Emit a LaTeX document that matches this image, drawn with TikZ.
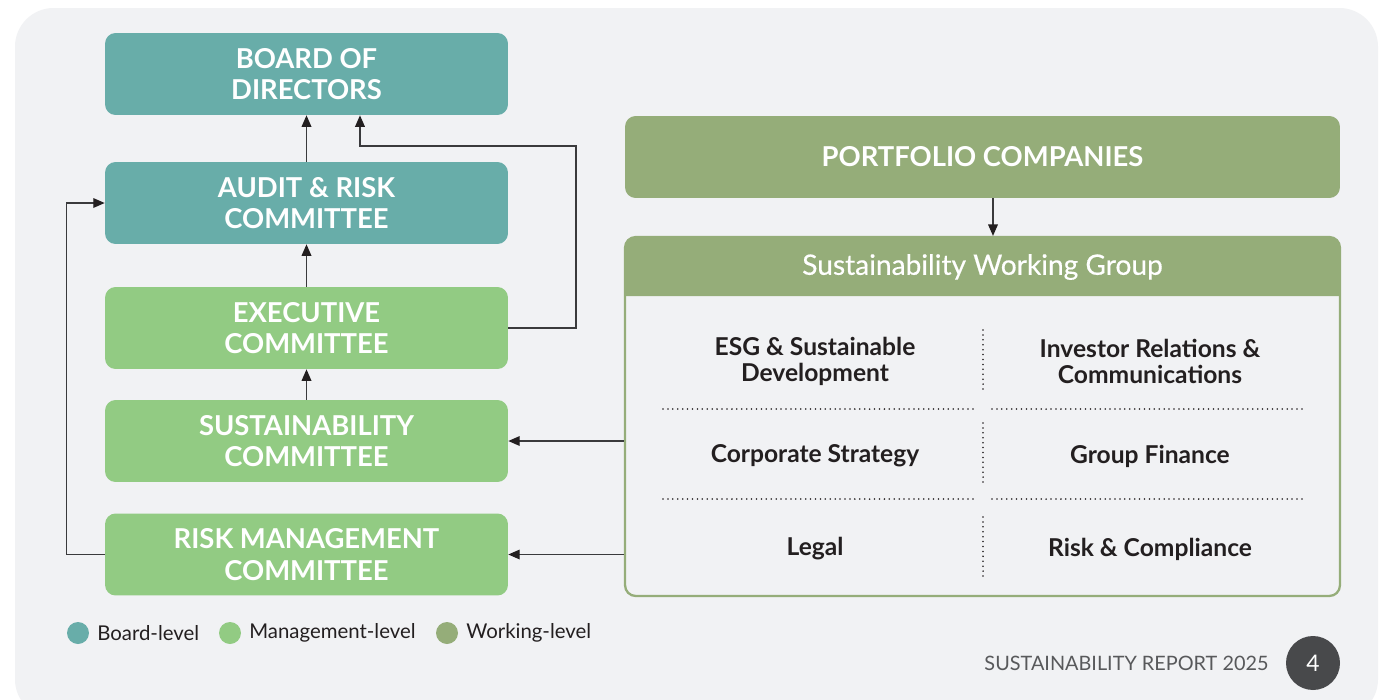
\documentclass[tikz,border=0pt]{standalone}
\usepackage{fontspec}
\setmainfont{Lato}
\newfontfamily\medfont{Lato}[FakeBold=0.5]
\usetikzlibrary{arrows.meta,positioning}
\definecolor{boardteal}{HTML}{68ADA9}
\definecolor{mgmtgreen}{HTML}{92CB83}
\definecolor{workgreen}{HTML}{95AD79}
\definecolor{panelgray}{HTML}{F1F2F4}
\definecolor{inkdark}{HTML}{231F20}
\definecolor{linegray}{HTML}{3A3A3C}
\definecolor{footgray}{HTML}{58595B}
\definecolor{pagedot}{HTML}{48494B}

\begin{document}
\begin{tikzpicture}[x=0.02cm,y=-0.02cm,
			box/.style={rounded corners=6pt, minimum width=8.06cm, minimum height=1.64cm, align=center,
				text=white, font=\bfseries\fontsize{15.6}{18}\selectfont},
			board/.style={box, fill=boardteal},
			mgmt/.style={box, fill=mgmtgreen},
			cell/.style={align=center, text=inkdark, font=\bfseries\fontsize{14}{14.8}\selectfont},
			link/.style={draw=linegray, line width=0.7pt, -{Triangle[length=6.5pt,width=5.5pt,color=inkdark]}},
			divider/.style={draw=inkdark, line width=1pt, line cap=round, dash pattern=on 0pt off 2.8pt},
			legdot/.style={circle, inner sep=0pt, minimum size=0.44cm},
			legtext/.style={right=1pt of #1, text=inkdark, font=\fontsize{11.6}{13}\selectfont}]
			\useasboundingbox (0,0) rectangle (1380,700);
			\fill[white] (0,0) rectangle (1380,700);
			\fill[panelgray, rounded corners=22pt] (15,8) rectangle (1378,718);

			% board and management committees
			\node[board] (board) at (306.5,74) {BOARD OF\\DIRECTORS};
			\node[board] (audit) at (306.5,203) {AUDIT \& RISK\\COMMITTEE};
			\node[mgmt] (exec) at (306.5,328) {EXECUTIVE\\COMMITTEE};
			\node[mgmt] (sust) at (306.5,441) {SUSTAINABILITY\\COMMITTEE};
			\node[mgmt] (riskm) at (306.5,554.5) {RISK MANAGEMENT\\COMMITTEE};

			% working level
			\node[box, fill=workgreen, minimum width=14.3cm] (port) at (982.5,157) {PORTFOLIO COMPANIES};
			\fill[workgreen] (625,296) [rounded corners=6pt] -- (625,237) -- (1340,237) [sharp corners] -- (1340,296) -- cycle;
			\node[draw=workgreen, line width=1.3pt, rounded corners=6pt, minimum width=14.3cm, minimum height=7.18cm] (swgbox) at (982.5,416.5) {};
			\node[text=white, font=\medfont\fontsize{16}{18}\selectfont] (swg) at (982.5,267) {Sustainability Working Group};

			\node[cell] (esg) at (815,361) {ESG \& Sustainable\\Development};
			\node[cell] (irc) at (1150,361) {Investor Relations \&\\Communications};
			\node[cell] (cs) at (815,456) {Corporate Strategy};
			\node[cell] (gf) at (1150,456) {Group Finance};
			\node[cell] (legal) at (815,549) {Legal};
			\node[cell] (rc) at (1150,549) {Risk \& Compliance};

			\foreach \ya/\yb in {330/390, 423/486, 517/578}
				\draw[divider] (983,\ya) -- (983,\yb);
			\foreach \yy in {409, 499} {
				\draw[divider] (663,\yy) -- (975,\yy);
				\draw[divider] (992,\yy) -- (1303,\yy);
			}

			% reporting lines
			\draw[link] (audit) -- (board);
			\draw[link] (exec) -- (audit);
			\draw[link] (sust) -- (exec);
			\coordinate (bend) at (576,146);
			\draw[link] (exec.east) -| (bend) -| ([xshift=1.07cm]board.south);
			\draw[link] (riskm.west) -- ++(-38,0) |- (audit.west);
			\draw[link] (swgbox.west |- sust) -- (sust.east);
			\draw[link] (swgbox.west |- riskm) -- (riskm.east);
			\draw[link] ([xshift=0.21cm]port.south) -- ([xshift=0.21cm]swgbox.north);

			% legend
			\node[legdot, fill=boardteal] (legboard) at (78,633) {};
			\node[legtext=legboard] (legboardtxt) {Board-level};
			\node[legdot, fill=mgmtgreen] (legmgmt) at (230,633) {};
			\node[legtext=legmgmt] (legmgmttxt) {Management-level};
			\node[legdot, fill=workgreen] (legwork) at (447,633) {};
			\node[legtext=legwork] (legworktxt) {Working-level};

			% footer
			\node[circle, fill=pagedot, minimum size=1.08cm, inner sep=0pt, text=white, font=\fontsize{13}{15}\selectfont] (pagenum) at (1313,663) {4};
			\node[left=0.22cm of pagenum, text=footgray, font=\fontsize{11.3}{13}\selectfont] (footer) {SUSTAINABILITY REPORT 2025};
		\end{tikzpicture}
\end{document}
